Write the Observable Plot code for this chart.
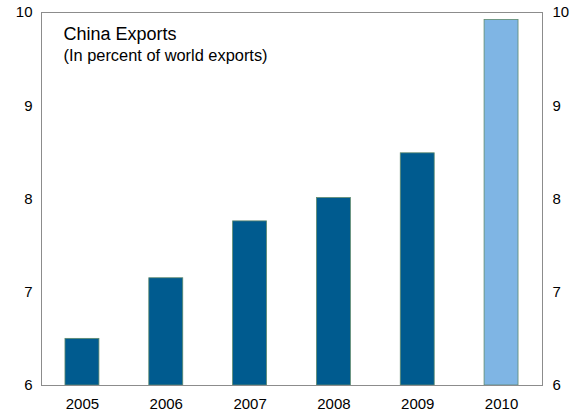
<!DOCTYPE html>
<html>
<head>
<meta charset="utf-8">
<script src="https://cdn.jsdelivr.net/npm/d3@7"></script>
<script src="https://cdn.jsdelivr.net/npm/@observablehq/plot@0.6"></script>
<style>
  html, body { margin: 0; padding: 0; background: #fff; }
  #chart svg { font-family: "Liberation Sans", Arial, sans-serif; }
</style>
</head>
<body>
<div id="chart"></div>
<script>
const years = ["2005", "2006", "2007", "2008", "2009", "2010"];
const shares = [6.50, 7.15, 7.76, 8.01, 8.49, 9.92];
const barColors = ["#005b8f", "#005b8f", "#005b8f", "#005b8f", "#005b8f", "#7fb5e4"];
const yTicks = [6, 7, 8, 9, 10];
const titleText = "China Exports";
const subtitleText = "(In percent of world exports)";

const data = years.map((y, i) => ({year: y, value: shares[i], color: barColors[i]}));

const chart = Plot.plot({
  width: 579,
  height: 412,
  marginLeft: 41,
  marginRight: 37,
  marginTop: 12,
  marginBottom: 27,
  style: {fontFamily: '"Liberation Sans", Arial, sans-serif', fontSize: "15px", color: "#000", background: "#fff"},
  x: {domain: years, paddingInner: 0.595, paddingOuter: 0.286, round: false, label: null},
  y: {domain: [6, 10], label: null},
  marks: [
    Plot.barY(data, {x: "year", y1: 6, y2: "value", fill: "color", stroke: "#5f8a6e", strokeWidth: 0.8}),
    Plot.frame({stroke: "#8c8c8c", strokeWidth: 1}),
    Plot.axisY(yTicks, {anchor: "left", tickSize: 0, tickPadding: 9, fontSize: 15, tickFormat: d3.format("d"), label: null}),
    Plot.axisY(yTicks, {anchor: "right", tickSize: 0, tickPadding: 10, fontSize: 15, tickFormat: d3.format("d"), label: null}),
    Plot.axisX({tickSize: 0, tickPadding: 13, fontSize: 15, label: null}),
    Plot.text([titleText], {frameAnchor: "top-left", dx: 22, dy: 27, fontSize: 18, textAnchor: "start", lineAnchor: "bottom", fill: "#000"}),
    Plot.text([subtitleText], {frameAnchor: "top-left", dx: 22, dy: 48, fontSize: 16.4, textAnchor: "start", lineAnchor: "bottom", fill: "#000"})
  ]
});
document.getElementById("chart").appendChild(chart);
</script>
</body>
</html>
